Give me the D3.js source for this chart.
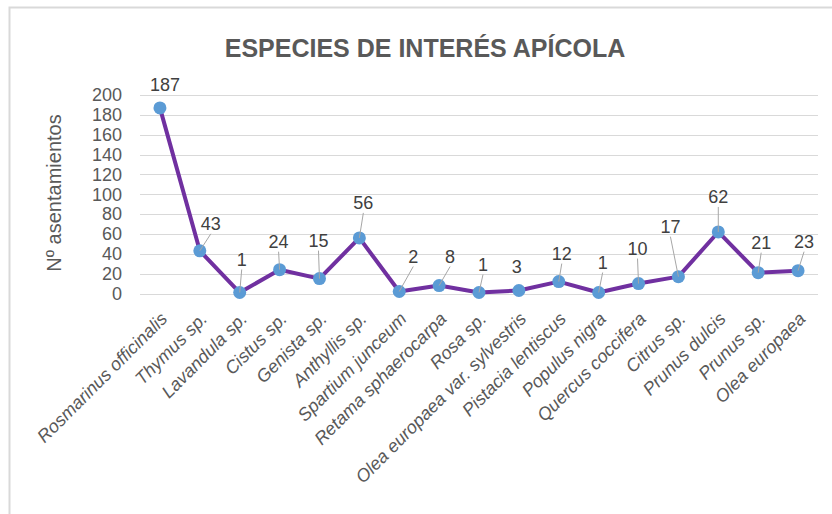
<!DOCTYPE html>
<html>
<head>
<meta charset="utf-8">
<script src="https://cdnjs.cloudflare.com/ajax/libs/d3/7.8.5/d3.min.js"></script>
<style>
  body { margin: 0; background: #fff; }
  svg { display: block; font-family: "Liberation Sans", Arial, sans-serif; }
</style>
</head>
<body>
<div id="chart"></div>
<script>
// species and number of settlements
var species = ["Rosmarinus officinalis", "Thymus sp.", "Lavandula sp.", "Cistus sp.", "Genista sp.",
    "Anthyllis sp.", "Spartium junceum", "Retama sphaerocarpa", "Rosa sp.", "Olea europaea var. sylvestris",
    "Pistacia lentiscus", "Populus nigra", "Quercus coccifera", "Citrus sp.", "Prunus dulcis",
    "Prunus sp.", "Olea europaea"];
var counts = [187, 43, 1, 24, 15, 56, 2, 8, 1, 3, 12, 1, 10, 17, 62, 21, 23];
var yTicks = [0, 20, 40, 60, 80, 100, 120, 140, 160, 180, 200];

// manual nudges of the data labels (px), like in the original sheet
var labelNudge = [[5, -23], [11, -27], [2, -33], [-1, -28], [-1, -38], [4, -35], [14, -35], [11, -29],
    [4, -28], [-2, -24], [3, -28], [4, -30], [-1, -35], [-8, -50], [0, -35], [3, -30], [6, -29]];

var width = 832, height = 514;
var plot = { left: 140, right: 818, top: 95, bottom: 293.5 };

var svg = d3.select("#chart").append("svg")
    .attr("width", width)
    .attr("height", height);

svg.append("rect").attr("width", width).attr("height", height).attr("fill", "#fff");

// chart area border (only top and left visible)
svg.append("rect")
    .attr("x", 9.5).attr("y", 7.5)
    .attr("width", 900).attr("height", 600)
    .attr("fill", "none")
    .attr("stroke", "#d9d9d9")
    .attr("stroke-width", 2);

var x = d3.scaleBand().domain(species).range([plot.left, plot.right]);
var y = d3.scaleLinear().domain([0, 200]).range([plot.bottom, plot.top]);

svg.append("text")
    .attr("x", 425).attr("y", 57)
    .attr("text-anchor", "middle")
    .style("font-size", "25px")
    .style("font-weight", "bold")
    .attr("fill", "#595959")
    .text("ESPECIES DE INTERÉS APÍCOLA");

// gridlines
svg.append("g")
    .selectAll("line")
    .data(yTicks)
    .enter().append("line")
    .attr("x1", plot.left).attr("x2", plot.right)
    .attr("y1", function (d) { return Math.round(y(d)) + 0.5; })
    .attr("y2", function (d) { return Math.round(y(d)) + 0.5; })
    .attr("stroke", "#d9d9d9")
    .attr("stroke-width", 1);

var yAxis = svg.append("g")
    .attr("transform", "translate(" + plot.left + ",0)")
    .call(d3.axisLeft(y).tickValues(yTicks).tickSize(0).tickPadding(18));
yAxis.select(".domain").remove();
yAxis.selectAll("text")
    .style("font-size", "18px")
    .style("font-family", "Liberation Sans, Arial, sans-serif")
    .attr("fill", "#595959");

svg.append("text")
    .attr("transform", "translate(61,193) rotate(-90)")
    .attr("text-anchor", "middle")
    .style("font-size", "20px")
    .attr("fill", "#595959")
    .text("Nº asentamientos");

var xAxis = svg.append("g")
    .attr("transform", "translate(0," + plot.bottom + ")")
    .call(d3.axisBottom(x).tickSize(0));
xAxis.select(".domain").remove();
xAxis.selectAll("text")
    .attr("x", 0).attr("y", 0)
    .attr("dy", "0.35em")
    .attr("text-anchor", "end")
    .attr("transform", "translate(4,22) rotate(-45)")
    .style("font-size", "18px")
    .style("font-style", "italic")
    .style("font-family", "Liberation Sans, Arial, sans-serif")
    .attr("fill", "#595959");

var idx = d3.range(counts.length);
var cx = function (i) { return x(species[i]) + x.bandwidth() / 2; };
var cy = function (i) { return y(counts[i]); };

var line = d3.line()
    .x(function (i) { return cx(i); })
    .y(function (i) { return cy(i); });

svg.append("path")
    .datum(idx)
    .attr("d", line)
    .attr("fill", "none")
    .attr("stroke", "#7030a0")
    .attr("stroke-width", 4)
    .attr("stroke-linejoin", "round");

svg.append("g")
    .selectAll("circle")
    .data(idx)
    .enter().append("circle")
    .attr("cx", cx)
    .attr("cy", cy)
    .attr("r", 6.5)
    .attr("fill", "#5b9bd5");

// leader lines for labels moved away from their point
var moved = idx.filter(function (i) { return Math.hypot(labelNudge[i][0], labelNudge[i][1]) > 26; });
svg.append("g")
    .selectAll("line")
    .data(moved)
    .enter().append("line")
    .attr("x1", cx)
    .attr("y1", cy)
    .attr("x2", function (i) { return cx(i) + labelNudge[i][0]; })
    .attr("y2", function (i) { return cy(i) + labelNudge[i][1] + 10; })
    .attr("stroke", "#a6a6a6")
    .attr("stroke-width", 1);

svg.append("g")
    .selectAll("text")
    .data(idx)
    .enter().append("text")
    .attr("x", function (i) { return cx(i) + labelNudge[i][0]; })
    .attr("y", function (i) { return cy(i) + labelNudge[i][1]; })
    .attr("dy", "0.35em")
    .attr("text-anchor", "middle")
    .style("font-size", "18px")
    .attr("fill", "#404040")
    .text(function (i) { return counts[i]; });
</script>
</body>
</html>
